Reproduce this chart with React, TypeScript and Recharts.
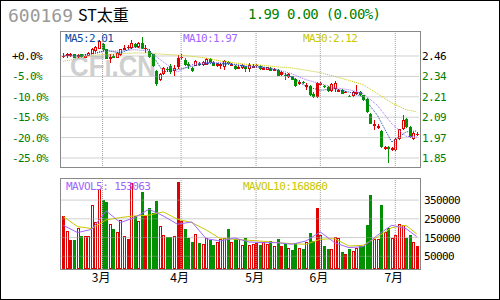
import React from 'react';
import { ComposedChart, Bar, Line, XAxis, YAxis, ReferenceLine } from 'recharts';

// daily candles (index 0 = first bar on the left)
const opens = [
  2.46, 2.46, 2.47, 2.47, 2.458, 2.47, 2.455, 2.462, 2.474, 2.49,
  2.504, 2.53, 2.5, 2.452, 2.462, 2.45, 2.464, 2.506, 2.516, 2.51,
  2.534, 2.514, 2.538, 2.51, 2.49, 2.47, 2.37, 2.317, 2.353, 2.38,
  2.4, 2.37, 2.446, 2.454, 2.438, 2.414, 2.388, 2.402, 2.418, 2.404,
  2.406, 2.44, 2.426, 2.408, 2.398, 2.394, 2.426, 2.406, 2.4, 2.392,
  2.388, 2.394, 2.384, 2.396, 2.406, 2.4, 2.386, 2.378, 2.39, 2.374,
  2.378, 2.364, 2.346, 2.333, 2.337, 2.32, 2.298, 2.302, 2.281, 2.277,
  2.233, 2.299, 2.283, 2.28, 2.273, 2.247, 2.263, 2.249, 2.257, 2.245,
  2.219, 2.217, 2.241, 2.243, 2.223, 2.203, 2.112, 2.044, 2.03, 2.008,
  1.905, 1.911, 1.899, 1.895, 1.962, 2.022, 2.078, 2.032, 1.958, 1.99,
];
const highs = [
  2.48, 2.48, 2.48, 2.475, 2.475, 2.475, 2.47, 2.482, 2.51, 2.52,
  2.554, 2.54, 2.505, 2.474, 2.47, 2.482, 2.505, 2.524, 2.524, 2.558,
  2.54, 2.542, 2.575, 2.524, 2.5, 2.474, 2.375, 2.36, 2.394, 2.394,
  2.41, 2.404, 2.464, 2.47, 2.445, 2.424, 2.394, 2.434, 2.424, 2.43,
  2.446, 2.446, 2.43, 2.42, 2.418, 2.434, 2.43, 2.416, 2.404, 2.404,
  2.41, 2.4, 2.418, 2.41, 2.414, 2.404, 2.396, 2.396, 2.394, 2.386,
  2.382, 2.37, 2.358, 2.358, 2.34, 2.325, 2.313, 2.31, 2.297, 2.283,
  2.24, 2.303, 2.305, 2.285, 2.277, 2.297, 2.307, 2.26, 2.26, 2.25,
  2.225, 2.247, 2.283, 2.247, 2.227, 2.207, 2.116, 2.072, 2.05, 2.012,
  1.915, 1.915, 1.91, 1.966, 2.022, 2.102, 2.085, 2.036, 2.002, 2.0,
];
const lows = [
  2.45, 2.45, 2.455, 2.445, 2.45, 2.45, 2.445, 2.458, 2.47, 2.486,
  2.5, 2.49, 2.44, 2.418, 2.445, 2.445, 2.46, 2.494, 2.5, 2.504,
  2.51, 2.51, 2.505, 2.478, 2.45, 2.395, 2.277, 2.31, 2.345, 2.364,
  2.35, 2.337, 2.384, 2.438, 2.4, 2.384, 2.366, 2.4, 2.4, 2.4,
  2.404, 2.416, 2.398, 2.394, 2.38, 2.378, 2.406, 2.4, 2.378, 2.386,
  2.384, 2.362, 2.364, 2.39, 2.39, 2.378, 2.38, 2.374, 2.368, 2.37,
  2.338, 2.34, 2.313, 2.33, 2.313, 2.275, 2.283, 2.29, 2.253, 2.218,
  2.205, 2.205, 2.28, 2.265, 2.243, 2.243, 2.243, 2.243, 2.229, 2.235,
  2.21, 2.213, 2.223, 2.22, 2.19, 2.118, 2.048, 2.012, 2.02, 1.905,
  1.895, 1.815, 1.89, 1.89, 1.955, 2.012, 2.028, 1.965, 1.952, 1.98,
];
const closes = [
  2.46, 2.47, 2.47, 2.45, 2.468, 2.455, 2.46, 2.478, 2.5, 2.514,
  2.548, 2.498, 2.444, 2.456, 2.45, 2.478, 2.5, 2.51, 2.51, 2.538,
  2.514, 2.538, 2.51, 2.51, 2.454, 2.402, 2.293, 2.353, 2.388, 2.376,
  2.364, 2.39, 2.392, 2.454, 2.404, 2.398, 2.37, 2.43, 2.406, 2.424,
  2.442, 2.42, 2.402, 2.41, 2.41, 2.43, 2.41, 2.41, 2.382, 2.396,
  2.404, 2.382, 2.408, 2.4, 2.406, 2.382, 2.39, 2.392, 2.372, 2.38,
  2.342, 2.346, 2.342, 2.353, 2.317, 2.281, 2.302, 2.298, 2.285, 2.223,
  2.213, 2.215, 2.299, 2.273, 2.247, 2.293, 2.299, 2.253, 2.233, 2.241,
  2.215, 2.243, 2.245, 2.223, 2.193, 2.122, 2.052, 2.048, 2.04, 1.911,
  1.909, 1.901, 1.903, 1.962, 2.018, 2.072, 2.032, 1.972, 1.996, 1.99,
];
const volumes = [
  265600, 185300, 137100, 137100, 199600, 158500, 158500, 158500, 322700, 233500,
  408400, 351300, 340600, 221000, 197800, 179900, 244200, 158500, 140700, 440500,
  265600, 238800, 390600, 265600, 308400, 283400, 345900, 212100, 162100, 153200,
  153200, 158500, 447600, 238600, 197800, 149600, 128200, 171000, 122800, 113900,
  149600, 135300, 108500, 126400, 140700, 149600, 197800, 126400, 140700, 140700,
  112800, 149600, 112800, 113900, 122800, 110300, 126400, 117400, 131700, 104900,
  144200, 104900, 117400, 94300, 83500, 122800, 96000, 90700, 126400, 176400,
  131700, 308400, 162100, 104900, 90700, 90700, 153200, 149600, 72800, 63900,
  90700, 78200, 96000, 104900, 104900, 217400, 378100, 140700, 140700, 324500,
  179900, 199600, 149600, 162100, 221000, 217400, 149600, 162100, 126400, 104900,
];

// moving averages, read at every fourth bar
const maDays = [0, 4, 8, 12, 16, 20, 24, 28, 32, 36, 40, 44, 48, 52, 56, 60, 64, 68, 72, 76, 80, 84, 88, 92, 96, 99];
const ma5 = [2.464, 2.462, 2.474, 2.494, 2.478, 2.514, 2.498, 2.364, 2.378, 2.398, 2.414, 2.414, 2.408, 2.394, 2.394, 2.374, 2.333, 2.277, 2.253, 2.263, 2.243, 2.213, 2.102, 1.941, 2.002, 2.008];
const ma10 = [2.464, 2.458, 2.47, 2.49, 2.49, 2.498, 2.49, 2.424, 2.364, 2.408, 2.42, 2.42, 2.41, 2.398, 2.39, 2.378, 2.353, 2.317, 2.293, 2.269, 2.257, 2.233, 2.162, 2.052, 1.976, 1.972];
const ma30 = [2.428, 2.444, 2.464, 2.47, 2.474, 2.478, 2.478, 2.47, 2.466, 2.458, 2.448, 2.43, 2.418, 2.408, 2.404, 2.394, 2.388, 2.374, 2.36, 2.337, 2.313, 2.287, 2.233, 2.177, 2.136, 2.124];
const mavol5 = [215400, 176400, 194200, 292300, 229900, 256700, 301300, 265600, 221000, 233300, 144200, 131700, 147800, 126400, 122800, 122800, 113900, 131700, 179900, 122800, 96000, 101400, 162100, 215600, 197800, 154900];
const mavol10 = [261900, 208500, 197800, 244200, 256700, 265600, 269200, 287000, 247800, 229900, 190600, 144200, 140700, 135300, 130000, 122800, 117400, 113900, 140700, 144200, 104900, 108500, 153200, 203000, 215600, 169200];

const priceTicks = [2.46, 2.337, 2.214, 2.091, 1.968, 1.845];
const priceTickLabels = ['2.46', '2.34', '2.21', '2.09', '1.97', '1.85'];
const pctTickLabels = ['+0.0%', '-5.0%', '-10.0%', '-15.0%', '-20.0%', '-25.0%'];
const volTicks = [50000, 150000, 250000, 350000];
const monthStarts = [11, 33, 54, 72, 93];
const monthLabels = ['3月', '4月', '5月', '6月', '7月'];

const PRICE_DOMAIN = [1.7847, 2.6047];
const VOL_FLOOR = -18000;
const VOL_DOMAIN = [VOL_FLOOR, 468000];

const RED = '#e00000';
const GREEN = '#009000';
const TXT_GREEN = '#008000';
const BLUE = '#0a4aa0';
const PURPLE = '#a066ff';
const YELLOW = '#c8c800';
const GRID = '#a0a0a0';

const rows = opens.map((o, i) => {
  const row: any = { day: i, o, h: highs[i], l: lows[i], c: closes[i], v: volumes[i], pc: i > 0 ? closes[i - 1] : o };
  const k = maDays.indexOf(i);
  if (k >= 0) {
    row.ma5 = ma5[k];
    row.ma10 = ma10[k];
    row.ma30 = ma30[k];
    row.mavol5 = mavol5[k];
    row.mavol10 = mavol10[k];
  }
  return row;
});

// up = hollow red, down but not below the previous close = solid red, else solid green
const kindOf = (d: any) => (d.c > d.o ? 'up' : d.c >= d.pc || d.c === d.o ? 'hold' : 'down');

const axisFont = { fontFamily: '"DejaVu Sans Mono", monospace', fontSize: 11, letterSpacing: -0.6 };

const Candle = (props: any) => {
  const { x, y, width, height, payload } = props;
  const { o, h, l, c } = payload;
  const k = h > l ? height / (h - l) : 0;
  const cx = Math.round(x + width / 2);
  const top = Math.round(y + (h - Math.max(o, c)) * k);
  const bot = Math.round(y + (h - Math.min(o, c)) * k);
  const yTop = Math.round(y);
  const yBot = Math.round(y + height);
  const wx = cx + 0.5;
  const kind = kindOf(payload);
  if (kind === 'up') {
    return (
      <g shapeRendering="crispEdges">
        <line x1={wx} x2={wx} y1={yTop} y2={top} stroke={RED} />
        <line x1={wx} x2={wx} y1={bot} y2={yBot} stroke={RED} />
        <rect x={cx - 0.5} y={top + 0.5} width={2} height={Math.max(bot - top - 1, 1)} fill="#fff" stroke={RED} />
      </g>
    );
  }
  const color = kind === 'down' ? GREEN : RED;
  if (c === o) {
    return (
      <g shapeRendering="crispEdges">
        <line x1={wx} x2={wx} y1={yTop} y2={yBot} stroke={color} />
        <line x1={cx - 1} x2={cx + 2} y1={top + 0.5} y2={top + 0.5} stroke={color} />
      </g>
    );
  }
  return (
    <g shapeRendering="crispEdges">
      <line x1={wx} x2={wx} y1={yTop} y2={yBot} stroke={color} />
      <rect x={cx - 1} y={top} width={3} height={Math.max(bot - top, 1)} fill={color} />
    </g>
  );
};

const VolBar = (props: any) => {
  const { x, y, width, height, payload } = props;
  const cx = Math.round(x + width / 2);
  const yTop = Math.round(y);
  const h = Math.round(y + height) - yTop;
  const kind = kindOf(payload);
  if (kind === 'up') {
    return <rect shapeRendering="crispEdges" x={cx - 0.5} y={yTop + 0.5} width={2} height={h - 1} fill="#fff" stroke={RED} />;
  }
  return <rect shapeRendering="crispEdges" x={cx - 1} y={yTop} width={3} height={h} fill={kind === 'down' ? GREEN : RED} />;
};

const PctTick = (props: any) => {
  const { y, payload } = props;
  const i = priceTicks.indexOf(payload.value);
  return (
    <text x={12} y={y + 4} fill={i === 0 ? '#000' : TXT_GREEN} style={axisFont}>
      {pctTickLabels[i]}
    </text>
  );
};

const PriceTick = (props: any) => {
  const { y, payload } = props;
  const i = priceTicks.indexOf(payload.value);
  return (
    <text x={422} y={y + 4} fill={i === 0 ? '#000' : TXT_GREEN} style={axisFont}>
      {priceTickLabels[i]}
    </text>
  );
};

const VolTick = (props: any) => {
  const { y, payload } = props;
  return (
    <text x={424} y={y + 4} fill="#000" style={axisFont}>
      {payload.value}
    </text>
  );
};

const MonthTick = (props: any) => {
  const { x, y, payload } = props;
  const i = monthStarts.indexOf(payload.value);
  return (
    <text x={x - 1.5} y={y + 13} textAnchor="middle" fill="#000" style={{ fontFamily: '"Noto Sans CJK SC", sans-serif', fontSize: 12 }}>
      {monthLabels[i]}
    </text>
  );
};

const abs: React.CSSProperties = { position: 'absolute', left: 0, top: 0 };

const App: React.FC = () => {
  return (
    <div style={{ position: 'absolute', left: 0, top: 0, width: 500, height: 300, background: '#fff' }}>
      {/* watermark under the candles */}
      <svg width={500} height={300} style={abs}>
        <text x={70} y={76} textLength={86} lengthAdjust="spacingAndGlyphs" fill="#cfcfcf"
          style={{ fontFamily: '"Liberation Sans", Arial, sans-serif', fontSize: 30, fontWeight: 'bold' }}>
          CFi.CN
        </text>
      </svg>

      <ComposedChart width={500} height={180} data={rows} margin={{ top: 32, right: 1.5, bottom: 12, left: 1.5 }} style={abs}>
        <XAxis dataKey="day" type="category" hide />
        <YAxis yAxisId="pct" orientation="left" width={60} type="number" domain={PRICE_DOMAIN} ticks={priceTicks}
          interval={0} allowDataOverflow axisLine={false} tickLine={false} tick={<PctTick />} />
        <YAxis yAxisId="price" orientation="right" width={80} type="number" domain={PRICE_DOMAIN} ticks={priceTicks}
          interval={0} allowDataOverflow axisLine={false} tickLine={false} tick={<PriceTick />} />
        {priceTicks.map((t) => (
          <ReferenceLine key={'h' + t} yAxisId="price" y={t} stroke={GRID} strokeDasharray="1 1" />
        ))}
        {monthStarts.map((d) => (
          <ReferenceLine key={'v' + d} yAxisId="price" x={d} stroke={GRID} strokeDasharray="1 1" />
        ))}
        <Bar yAxisId="price" dataKey={(d: any) => [d.l, d.h]} shape={<Candle />} isAnimationActive={false} />
        <Line yAxisId="price" type="linear" dataKey="ma30" stroke={YELLOW} strokeDasharray="1 1" dot={false} connectNulls isAnimationActive={false} />
        <Line yAxisId="price" type="linear" dataKey="ma10" stroke={PURPLE} strokeDasharray="1 1" dot={false} connectNulls isAnimationActive={false} />
        <Line yAxisId="price" type="linear" dataKey="ma5" stroke={BLUE} strokeDasharray="1 1" dot={false} connectNulls isAnimationActive={false} />
      </ComposedChart>

      <ComposedChart width={500} height={300} data={rows} margin={{ top: 178, right: 1.5, bottom: 0, left: 61.5 }} style={abs}>
        <XAxis dataKey="day" type="category" ticks={monthStarts} interval={0} height={31} axisLine={false}
          tickLine={false} tickSize={0} tickMargin={0} tick={<MonthTick />} />
        <YAxis yAxisId="vol" orientation="right" width={80} type="number" domain={VOL_DOMAIN} ticks={volTicks}
          interval={0} allowDataOverflow axisLine={false} tickLine={false} tick={<VolTick />} />
        {volTicks.map((t) => (
          <ReferenceLine key={'vh' + t} yAxisId="vol" y={t} stroke={GRID} strokeDasharray="1 1" />
        ))}
        {monthStarts.map((d) => (
          <ReferenceLine key={'vv' + d} yAxisId="vol" x={d} stroke={GRID} strokeDasharray="1 1" />
        ))}
        <Bar yAxisId="vol" dataKey={(d: any) => [VOL_FLOOR, d.v]} shape={<VolBar />} isAnimationActive={false} />
        <Line yAxisId="vol" type="linear" dataKey="mavol10" stroke={YELLOW} dot={false} connectNulls isAnimationActive={false} />
        <Line yAxisId="vol" type="linear" dataKey="mavol5" stroke={PURPLE} dot={false} connectNulls isAnimationActive={false} />
      </ComposedChart>

      {/* frames and captions */}
      <svg width={500} height={300} style={abs}>
        <rect x={0.5} y={0.5} width={499} height={299} fill="none" stroke="#000" />
        <rect x={60.5} y={31.5} width={360} height={136} fill="none" stroke="#888" />
        <rect x={60.5} y={178.5} width={360} height={91} fill="none" stroke="#888" />
        <text x={8} y={22} fill="#999" style={{ fontFamily: '"DejaVu Sans Mono", monospace', fontSize: 18 }}>600169</text>
        <text x={78} y={21} fill="#000" style={{ fontFamily: '"Noto Sans CJK SC", sans-serif', fontSize: 16 }}>ST太重</text>
        <text x={248} y={19} fill={TXT_GREEN} style={{ fontFamily: '"DejaVu Sans Mono", monospace', fontSize: 14, letterSpacing: -0.65 }}>
          1.99 0.00 (0.00%)
        </text>
        <text x={65} y={42} fill={BLUE} style={axisFont}>MA5:2.01</text>
        <text x={183} y={42} fill={PURPLE} style={axisFont}>MA10:1.97</text>
        <text x={303} y={42} fill={YELLOW} style={axisFont}>MA30:2.12</text>
        <text x={66} y={190} fill={PURPLE} style={axisFont}>MAVOL5: 153063</text>
        <text x={243} y={190} fill={YELLOW} style={axisFont}>MAVOL10:168860</text>
      </svg>
    </div>
  );
};

export default App;
